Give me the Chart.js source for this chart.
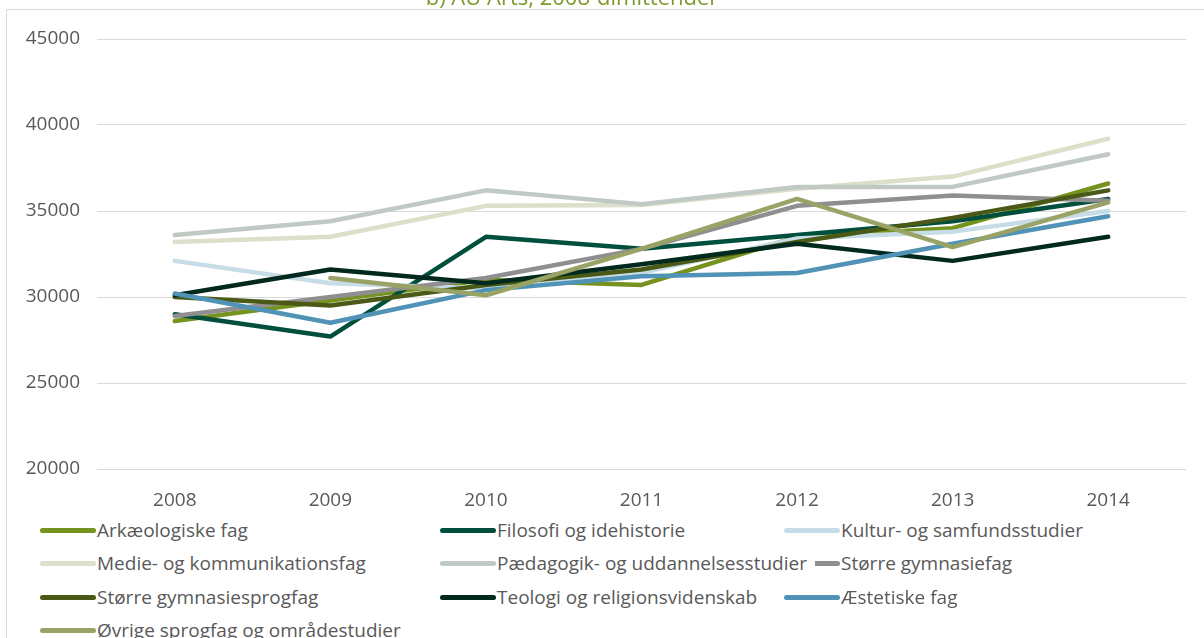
<!DOCTYPE html>
<html lang="da">
<head>
<meta charset="utf-8">
<title>AU Arts, 2008-dimittender</title>
<script src="https://cdn.jsdelivr.net/npm/chart.js@4/dist/chart.umd.min.js"></script>
<style>
  html, body { margin: 0; padding: 0; background: #ffffff; }
  #wrap { position: relative; width: 1204px; height: 638px; overflow: hidden; }
  #chart { position: absolute; left: 0; top: 0; }
  #legend { position: absolute; left: 0; top: 0; width: 1204px; height: 638px; pointer-events: none;
            font-family: "Open Sans", "DejaVu Sans", sans-serif; font-size: 19px; color: #595959; }
  .item { position: absolute; display: flex; align-items: center; white-space: nowrap; height: 26px; }
  .swatch { width: 56px; height: 5px; border-radius: 3px; margin-right: 1px; position: relative; z-index: 1; }
  .label { position: relative; z-index: 2; background: #ffffff; padding-right: 8px; }
</style>
</head>
<body>
<div id="wrap">
  <canvas id="chart" width="1204" height="638"></canvas>
  <div id="legend"></div>
</div>
<script>
// Years on the x axis
const years = ['2008', '2009', '2010', '2011', '2012', '2013', '2014'];

// Series names
const seriesNames = [
  'Arkæologiske fag',
  'Filosofi og idehistorie',
  'Kultur- og samfundsstudier',
  'Medie- og kommunikationsfag',
  'Pædagogik- og uddannelsesstudier',
  'Større gymnasiefag',
  'Større gymnasiesprogfag',
  'Teologi og religionsvidenskab',
  'Æstetiske fag',
  'Øvrige sprogfag og områdestudier'
];

// Values per study area, 2008–2014
const arkaeologi       = [28600, 29800, 31000, 30700, 33500, 34000, 36600];
const filosofi         = [29000, 27700, 33500, 32800, 33600, 34400, 35700];
const kultur           = [32100, 30800, 30500, 31400, 33400, 33800, 35000];
const medie            = [33200, 33500, 35300, 35350, 36300, 37000, 39200];
const paedagogik       = [33600, 34400, 36200, 35400, 36400, 36400, 38300];
const gymnasiefag      = [28900, 30000, 31100, 32800, 35300, 35900, 35600];
const gymnasiesprogfag = [30000, 29500, 30700, 31600, 33200, 34600, 36200];
const teologi          = [30100, 31600, 30800, 31900, 33100, 32100, 33500];
const aestetiske       = [30200, 28500, 30400, 31200, 31400, 33100, 34700];
const oevrige          = [null,  31100, 30100, 32800, 35700, 32900, 35500];

// Y axis range and step
const yMin = 20000;
const yMax = 45000;
const yStep = 5000;

const titleText = 'b) AU Arts, 2008-dimittender';

const seriesValues = [arkaeologi, filosofi, kultur, medie, paedagogik,
                      gymnasiefag, gymnasiesprogfag, teologi, aestetiske, oevrige];
const seriesColors = ['#76921f', '#004e3c', '#c6dce6', '#dcdfca', '#c0c9c3',
                      '#8f8f8f', '#4a5a16', '#01291d', '#5093b6', '#99a366'];

const FONT = '"Open Sans", "DejaVu Sans", sans-serif';

const n = seriesNames.length;
const datasets = seriesNames.map((name, i) => ({
  label: name,
  data: seriesValues[i],
  borderColor: seriesColors[i],
  backgroundColor: seriesColors[i],
  borderWidth: 4.5,
  borderCapStyle: 'round',
  borderJoinStyle: 'round',
  pointRadius: 0,
  pointHoverRadius: 0,
  tension: 0,
  fill: false,
  order: n - i   // later series are drawn on top
}));

// Frame lines and the title above the plot
const framePlugin = {
  id: 'frame',
  beforeDraw(chart) {
    const ctx = chart.ctx;
    ctx.save();
    ctx.strokeStyle = '#d9d9d9';
    ctx.lineWidth = 1;
    ctx.beginPath();
    ctx.moveTo(6.5, chart.height);
    ctx.lineTo(6.5, 9.5);
    ctx.lineTo(chart.width, 9.5);
    ctx.stroke();
    ctx.restore();
  },
  afterDraw(chart) {
    const ctx = chart.ctx;
    ctx.save();
    ctx.fillStyle = '#7f9a2c';
    ctx.font = '22px ' + FONT;
    ctx.textAlign = 'center';
    ctx.textBaseline = 'alphabetic';
    ctx.fillText(titleText, 572, 5);
    ctx.restore();
  }
};

const chart = new Chart(document.getElementById('chart'), {
  type: 'line',
  data: { labels: years, datasets },
  plugins: [framePlugin],
  options: {
    responsive: false,
    devicePixelRatio: 1,
    animation: false,
    layout: { padding: { left: 0, right: 18, top: 39, bottom: 129 } },
    plugins: {
      legend: { display: false },
      tooltip: { enabled: false },
      title: { display: false }
    },
    scales: {
      x: {
        offset: true,
        grid: { display: false, drawTicks: false },
        border: { display: false },
        ticks: {
          color: '#595959',
          padding: 20,
          maxRotation: 0,
          font: { family: FONT, size: 19 }
        },
        afterFit(scale) { scale.height = 40; }
      },
      y: {
        min: yMin,
        max: yMax,
        grid: { color: '#d9d9d9', lineWidth: 1, drawTicks: false },
        border: { display: false },
        ticks: {
          stepSize: yStep,
          color: '#595959',
          padding: 17,
          font: { family: FONT, size: 19 },
          callback: (v) => String(v)
        },
        afterFit(scale) { scale.width = 97; }
      }
    }
  }
});

// Legend in three columns under the plot
const legendEl = document.getElementById('legend');
const colX = [40, 440, 784];
const rowY = [530, 563, 597, 630];
seriesNames.forEach((name, i) => {
  const item = document.createElement('div');
  item.className = 'item';
  item.style.left = colX[i % 3] + 'px';
  item.style.top = (rowY[Math.floor(i / 3)] - 13) + 'px';
  item.style.zIndex = String(10 - (i % 3));
  const sw = document.createElement('span');
  sw.className = 'swatch';
  sw.style.background = seriesColors[i];
  const tx = document.createElement('span');
  tx.className = 'label';
  tx.textContent = name;
  item.appendChild(sw);
  item.appendChild(tx);
  legendEl.appendChild(item);
});
</script>
</body>
</html>
